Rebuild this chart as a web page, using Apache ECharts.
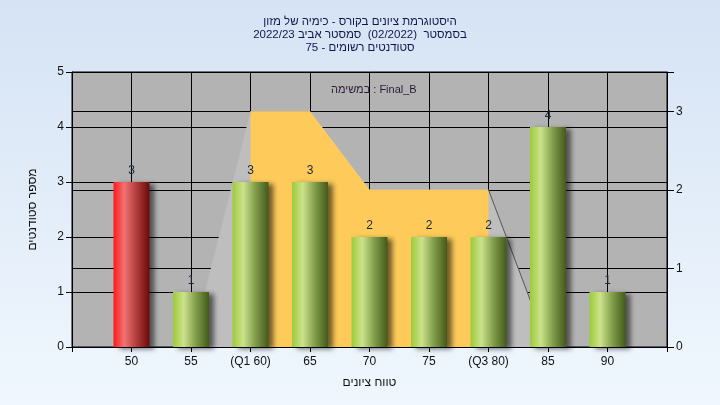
<!DOCTYPE html>
<html>
<head>
<meta charset="utf-8">
<script src="https://cdn.jsdelivr.net/npm/echarts@6/dist/echarts.min.js"></script>
<style>
html,body{margin:0;padding:0;}
#c{width:720px;height:405px;}
</style>
</head>
<body>
<div id="c"></div>
<script>
const categories = ['', '50', '55', '(Q1 60)', '65', '70', '75', '(Q3 80)', '85', '90', ''];
const counts = [null, 3, 1, 3, 3, 2, 2, 2, 4, 1, null];
const failIndex = 1;
const rangeAll = [null, 0, 0, 3, 3, 2, 2, 2, 0, 0, null];
const rangeIQR = [null, null, null, 3, 3, 2, 2, 2, null, null, null];
const rangeEdge = [null, null, null, null, null, null, null, 2, 0, null, null];
const leftTicks = [0, 1, 2, 3, 4, 5];
const rightTicks = [0, 1, 2, 3];

const FONT = "'Liberation Sans', 'DejaVu Sans', Arial, sans-serif";
const chart = echarts.init(document.getElementById('c'));

function grad(stops) {
  return new echarts.graphic.LinearGradient(0, 0, 1, 0, stops);
}
const greenGrad = grad([
  {offset: 0, color: '#9ccb3a'},
  {offset: 0.3, color: '#cbe28b'},
  {offset: 0.65, color: '#7e9a48'},
  {offset: 1, color: '#435a1a'}
]);
const redGrad = grad([
  {offset: 0, color: '#ff1a1a'},
  {offset: 0.3, color: '#f07272'},
  {offset: 0.65, color: '#b03a3a'},
  {offset: 1, color: '#6a0a0a'}
]);

const barData = counts.map((v, i) => v === null ? null : {
  value: v,
  itemStyle: {color: i === failIndex ? redGrad : greenGrad}
});

chart.setOption({
  animation: false,
  backgroundColor: new echarts.graphic.LinearGradient(0, 0, 0, 1, [
    {offset: 0, color: '#d5e3f4'},
    {offset: 1, color: '#f0f7fe'}
  ]),
  title: [{
    text: 'היסטוגרמת ציונים בקורס - כימיה של מזון\nבסמסטר  (02/2022)  סמסטר אביב 2022/23\nסטודנטים רשומים - 75',
    left: 'center',
    top: 10,
    textStyle: {fontFamily: FONT, fontSize: 11.5, fontWeight: 'normal', color: '#15154a', lineHeight: 13}
  }, {
    text: 'במשימה : Final_B',
    left: 326,
    top: 79,
    textStyle: {fontFamily: FONT, fontSize: 11, fontWeight: 'normal', color: '#2a1a3a'}
  }],
  grid: {
    left: 72, right: 53, top: 72, bottom: 58,
    show: true, backgroundColor: '#b3b3b3', borderColor: '#000', borderWidth: 1
  },
  xAxis: {
    type: 'category',
    data: categories,
    boundaryGap: false,
    name: 'טווח ציונים',
    nameLocation: 'middle',
    nameGap: 30,
    nameTextStyle: {fontFamily: FONT, fontSize: 12, color: '#111'},
    axisLine: {lineStyle: {color: '#000'}},
    axisTick: {show: true, length: 5, interval: 0, lineStyle: {color: '#000'}},
    axisLabel: {fontFamily: FONT, fontSize: 12, color: '#111', interval: 0, margin: 9},
    splitLine: {show: true, interval: 0, lineStyle: {color: '#000', width: 1}}
  },
  yAxis: [{
    type: 'value',
    min: 0, max: 5, interval: 1,
    name: 'מספר סטודנטים',
    nameLocation: 'middle',
    nameGap: 33,
    nameRotate: 90,
    nameTextStyle: {fontFamily: FONT, fontSize: 12, color: '#111'},
    axisLine: {show: true, lineStyle: {color: '#000'}},
    axisTick: {show: true, length: 6, lineStyle: {color: '#000'}},
    axisLabel: {fontFamily: FONT, fontSize: 12, color: '#111', margin: 8,
      formatter: v => leftTicks.indexOf(v) >= 0 ? String(v) : ''},
    splitLine: {show: true, lineStyle: {color: '#000', width: 1}}
  }, {
    type: 'value',
    min: 0, max: 3.5, interval: 1,
    position: 'right',
    axisLine: {show: true, lineStyle: {color: '#000'}},
    axisTick: {show: true, length: 7, lineStyle: {color: '#000'}},
    axisLabel: {fontFamily: FONT, fontSize: 12, color: '#111', margin: 9,
      formatter: v => rightTicks.indexOf(v) >= 0 ? String(v) : ''},
    splitLine: {show: true, lineStyle: {color: '#000', width: 1}}
  }],
  series: [{
    type: 'line',
    yAxisIndex: 1,
    data: rangeAll,
    symbol: 'none',
    lineStyle: {width: 0},
    areaStyle: {color: '#bebebe', opacity: 1},
    z: 2
  }, {
    type: 'line',
    yAxisIndex: 1,
    data: rangeIQR,
    symbol: 'none',
    lineStyle: {width: 0},
    areaStyle: {color: '#fecb5a', opacity: 1},
    z: 3
  }, {
    type: 'line',
    yAxisIndex: 1,
    data: rangeEdge,
    symbol: 'none',
    lineStyle: {width: 1, color: '#555'},
    z: 4
  }, {
    type: 'bar',
    yAxisIndex: 0,
    data: barData,
    barWidth: 36,
    z: 5,
    itemStyle: {
      shadowColor: 'rgba(0,0,0,0.55)',
      shadowBlur: 5,
      shadowOffsetX: 5,
      shadowOffsetY: 2
    },
    label: {
      show: true,
      position: 'top',
      distance: 5,
      fontFamily: FONT,
      fontSize: 12,
      color: '#1c2638'
    }
  }]
});
</script>
</body>
</html>
